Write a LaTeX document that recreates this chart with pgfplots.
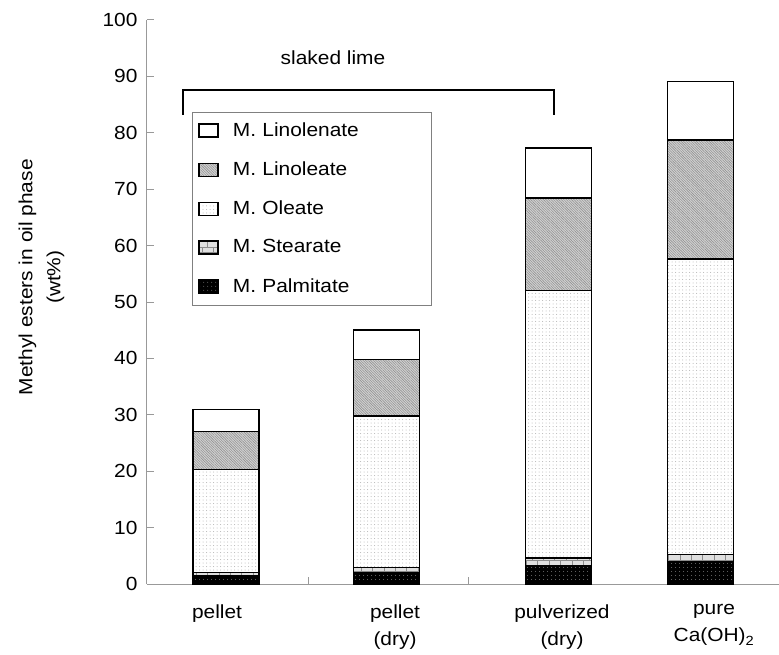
\documentclass[border=0pt]{standalone}
\usepackage{fontspec}
\setmainfont{Liberation Sans}[FakeStretch=1.1]
\usepackage{pgfplots}
\usepackage{pgfplotstable}
\pgfplotsset{compat=1.18}
\usetikzlibrary{patterns,patterns.meta}

\pgfplotstableread{
x palm stear ole linol linoln
226   1.5 0.5 18.3  6.7  3.9
386.5 2.0 0.9 26.9 10.0  5.2
558.5 3.3 1.3 47.4 16.4  8.9
700.5 3.9 1.3 52.4 21.1 10.4
}\esters

\begin{document}
\fontsize{19pt}{23pt}\selectfont
\begin{tikzpicture}
\begin{axis}[
  x=1pt, y=5.64pt,
  xmin=147, xmax=779, ymin=0, ymax=100,
  axis x line*=bottom, axis y line*=left,
  axis line style={gray!80, line width=1pt},
  every tick/.style={gray!80, line width=1pt},
  tick align=inside,
  major tick length=7pt,
  ytick={0,10,...,100},
  xtick={308,468},
  xticklabels={},
  extra x ticks={217,395,562,714},
  extra x tick labels={pellet,pellet\\(dry),pulverized\\(dry),pure\\Ca(OH)\textsubscript{2}},
  extra x tick style={major tick length=0pt, tick style={draw=none},
     xticklabel style={align=center, font=\fontsize{19pt}{27pt}\selectfont, anchor=north, yshift=-14pt}},
  /pgf/number format/assume math mode=true,
  yticklabel style={font=\fontsize{19pt}{23pt}\selectfont, xshift=-3pt},
  ylabel={Methyl esters in oil phase\\[5pt](wt\%)},
  ylabel style={align=center, font=\fontsize{19pt}{23pt}\selectfont, at={(axis description cs:-0.167,0.544)}, anchor=center},
  ybar stacked, bar width=66,
  every axis plot/.append style={draw=black, line width=1.5pt},
  reverse legend,
  legend style={at={(axis cs:192,83.7)}, anchor=north west, draw=gray, line width=0.8pt,
    font=\fontsize{19pt}{23pt}\selectfont, row sep=18.5pt, inner xsep=6pt, inner ysep=8pt,
    nodes={text width=190pt},
    /tikz/every odd column/.append style={column sep=12pt}},
  legend cell align=left,
  legend image code/.code={\draw[#1, line width=1.5pt] (0pt,-6.5pt) rectangle (19pt,6.5pt);},
]
\addplot[fill=black, postaction={pattern={Dots[distance=4pt,radius=0.5pt]}, pattern color=gray!70}] table[x=x,y=palm] {\esters};
\addlegendentry{M. Palmitate}
\addplot[fill=gray!25, postaction={pattern=bricks, pattern color=gray!90}] table[x=x,y=stear] {\esters};
\addlegendentry{M. Stearate}
\addplot[fill=white, postaction={pattern={Dots[distance=3.5pt,radius=0.5pt]}, pattern color=gray!60}] table[x=x,y=ole] {\esters};
\addlegendentry{M. Oleate}
\addplot[fill=gray!35, postaction={pattern={Lines[angle=-45,distance=1.8pt,line width=0.6pt]}, pattern color=gray!85}] table[x=x,y=linol] {\esters};
\addlegendentry{M. Linoleate}
\addplot[fill=white] table[x=x,y=linoln] {\esters};
\addlegendentry{M. Linolenate}
\draw[black, line width=1.3pt] (axis cs:183,83.2) -- (axis cs:183,87.6) -- (axis cs:554,87.6) -- (axis cs:554,83.2);
\node[font=\fontsize{19pt}{23pt}\selectfont] at (axis cs:333,93.3) {slaked lime};
\coordinate (O) at (axis cs:147,0);
\end{axis}
\pgfresetboundingbox
\path ([shift={(-147pt,-70pt)}]O) rectangle ([shift={(632pt,584pt)}]O);
\end{tikzpicture}
\end{document}
